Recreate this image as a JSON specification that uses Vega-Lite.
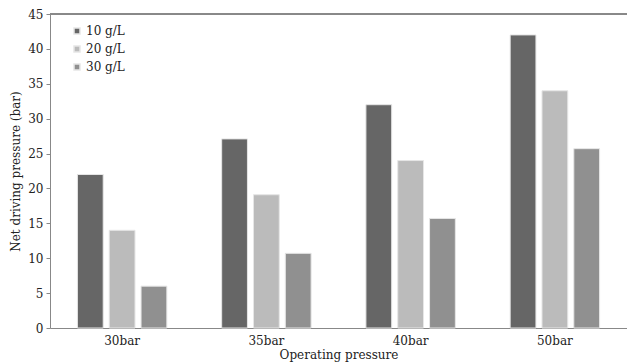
{
  "$schema": "https://vega.github.io/schema/vega-lite/v6.json",
  "autosize": "none",
  "padding": {"left": 50, "top": 14, "right": 0, "bottom": 36},
  "width": 577,
  "height": 314,
  "config": {
    "view": {"stroke": null},
    "font": "DejaVu Serif",
    "axis": {"labelFont": "DejaVu Serif", "titleFont": "DejaVu Serif", "labelFontSize": 12, "titleFontSize": 12, "labelColor": "#222", "titleColor": "#222", "titleFontWeight": "normal", "domainColor": "#888", "tickColor": "#888", "grid": false},
    "legend": {"labelFont": "DejaVu Serif", "labelFontSize": 12, "labelColor": "#222"}
  },
  "data": {
    "values": [
      {"p": "30bar", "c": "10 g/L", "v": 22},
      {"p": "30bar", "c": "20 g/L", "v": 14},
      {"p": "30bar", "c": "30 g/L", "v": 6},
      {"p": "35bar", "c": "10 g/L", "v": 27.1},
      {"p": "35bar", "c": "20 g/L", "v": 19.1},
      {"p": "35bar", "c": "30 g/L", "v": 10.7},
      {"p": "40bar", "c": "10 g/L", "v": 32},
      {"p": "40bar", "c": "20 g/L", "v": 24},
      {"p": "40bar", "c": "30 g/L", "v": 15.7},
      {"p": "50bar", "c": "10 g/L", "v": 42},
      {"p": "50bar", "c": "20 g/L", "v": 34},
      {"p": "50bar", "c": "30 g/L", "v": 25.7}
    ]
  },
  "layer": [
    {
      "mark": {"type": "bar", "stroke": "#e6e6e6", "strokeWidth": 1},
      "encoding": {
        "x": {"field": "p", "type": "nominal", "title": "Operating pressure",
              "scale": {"paddingInner": 0.38, "paddingOuter": 0.19},
              "axis": {"labelAngle": 0, "ticks": false, "labelPadding": 7, "titlePadding": 3}},
        "xOffset": {"field": "c", "type": "nominal", "scale": {"paddingInner": 0.19}},
        "y": {"field": "v", "type": "quantitative", "title": "Net driving pressure (bar)",
              "scale": {"domain": [0, 45]},
              "axis": {"values": [0,5,10,15,20,25,30,35,40,45], "labelOverlap": false, "tickSize": 4, "labelPadding": 3, "titlePadding": 5}},
        "color": {"field": "c", "type": "nominal", "title": null,
                  "scale": {"domain": ["10 g/L", "20 g/L", "30 g/L"], "range": ["#666666", "#bbbbbb", "#909090"]},
                  "legend": {"orient": "none", "legendX": 21, "legendY": 11, "symbolType": "square", "symbolSize": 36, "rowPadding": 6, "labelOffset": 3}}
      }
    },
    {
      "mark": {"type": "rule", "color": "#888"},
      "encoding": {"y": {"datum": 45, "type": "quantitative",
              "axis": {"values": [0,5,10,15,20,25,30,35,40,45], "labelOverlap": false, "tickSize": 4, "labelPadding": 3, "titlePadding": 5}}}
    }
  ]
}
